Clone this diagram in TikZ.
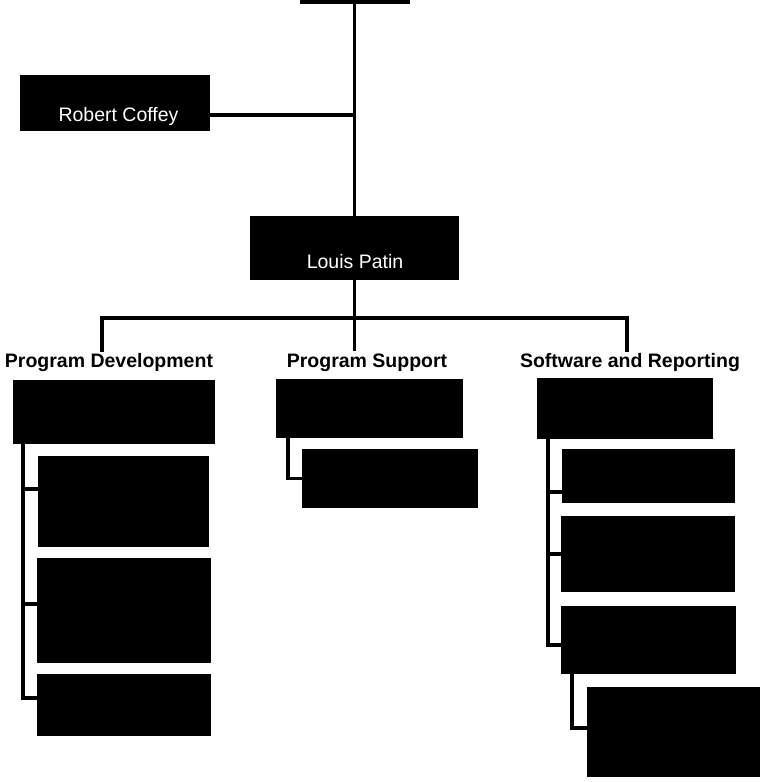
\documentclass[tikz,border=0pt]{standalone}
\usepackage{fontspec}
\setmainfont{Liberation Sans}
\begin{document}
\begin{tikzpicture}[x=1pt,y=-1pt,
  box/.style={draw=none,fill=black,inner sep=0pt},
  conn/.style={line width=3.4pt,line cap=rect},
  headtxt/.style={anchor=base,inner sep=2pt,font=\fontsize{19.5}{22}\selectfont\bfseries},
  nametxt/.style={anchor=base,inner sep=1pt,text=white,font=\fontsize{19.5}{22}\selectfont}]
\useasboundingbox[fill=white] (0,0) rectangle (761,782);
% top level boxes
\node[box,minimum width=190pt,minimum height=56pt] (Robert) at (115,103) {};
\node[nametxt] (RobertTxt) at (118.5,121) {Robert Coffey};
\node[box,minimum width=209pt,minimum height=64pt] (Louis) at (354.5,248) {};
\node[nametxt] (LouisTxt) at (355,268) {Louis Patin};
% headings
\node[headtxt] (PDhead) at (109,367) {Program Development};
\node[headtxt] (PShead) at (367,367) {Program Support};
\node[headtxt] (SRhead) at (630,367) {Software and Reporting};
% Program Development
\node[box,minimum width=202pt,minimum height=64pt] (PDtop) at (114,412) {};
\node[box,minimum width=171pt,minimum height=91pt] (PD1) at (123.5,501.5) {};
\node[box,minimum width=174pt,minimum height=105pt] (PD2) at (124,610.5) {};
\node[box,minimum width=174pt,minimum height=62pt] (PD3) at (124,705) {};
% Program Support
\node[box,minimum width=187pt,minimum height=59pt] (PStop) at (369.5,408.5) {};
\node[box,minimum width=176pt,minimum height=59pt] (PS1) at (390,478.5) {};
% Software and Reporting
\node[box,minimum width=176pt,minimum height=61pt] (SRtop) at (625,408.5) {};
\node[box,minimum width=173pt,minimum height=54pt] (SR1) at (648.5,476) {};
\node[box,minimum width=174pt,minimum height=76pt] (SR2) at (648,554) {};
\node[box,minimum width=175pt,minimum height=68pt] (SR3) at (648.5,640) {};
\node[box,minimum width=173pt,minimum height=90pt] (SR4) at (673.5,732) {};
% coordinates
\coordinate (topL) at (300,2);
\coordinate (topR) at (410,2);
\coordinate (topM) at (354.5,2);
\coordinate (hl) at (102,318);
\coordinate (hr) at (627,318);
% top connectors
\draw[conn,line cap=butt] (topL) -- (topR);
\draw[conn,line cap=butt] (topM) -- (Louis.north);
\draw[conn,line cap=butt] ([yshift=-12pt]Robert.east) -- ([yshift=-12pt]Robert.east -| Louis.north);
% bus
\draw[conn,line cap=butt] (Louis.south) -- (Louis.south |- hl);
\draw[conn] (hl |- PDhead.north) -- (hl) -- (hr) -- (hr |- SRhead.north);
\draw[conn,line cap=butt] (Louis.south |- hl) -- (Louis.south |- PShead.north);
% Program Development branches
\draw[conn,line cap=butt] ([xshift=10pt]PDtop.south west) |- ([yshift=7pt]PD3.west);
\draw[conn,line cap=butt] ([xshift=10pt]PDtop.south west) |- ([yshift=12.5pt]PD1.west);
\draw[conn,line cap=butt] ([xshift=10pt]PDtop.south west) |- ([yshift=6.5pt]PD2.west);
% Program Support branch
\draw[conn,line cap=butt] ([xshift=12pt]PStop.south west) |- (PS1.west);
% Software and Reporting branches
\draw[conn,line cap=butt] ([xshift=11pt]SRtop.south west) |- ([yshift=-5pt]SR3.west);
\draw[conn,line cap=butt] ([xshift=11pt]SRtop.south west) |- ([yshift=-16pt]SR1.west);
\draw[conn,line cap=butt] ([xshift=11pt]SRtop.south west) |- (SR2.west);
\draw[conn,line cap=butt] ([xshift=11pt]SR3.south west) |- ([yshift=4pt]SR4.west);
\end{tikzpicture}
\end{document}
